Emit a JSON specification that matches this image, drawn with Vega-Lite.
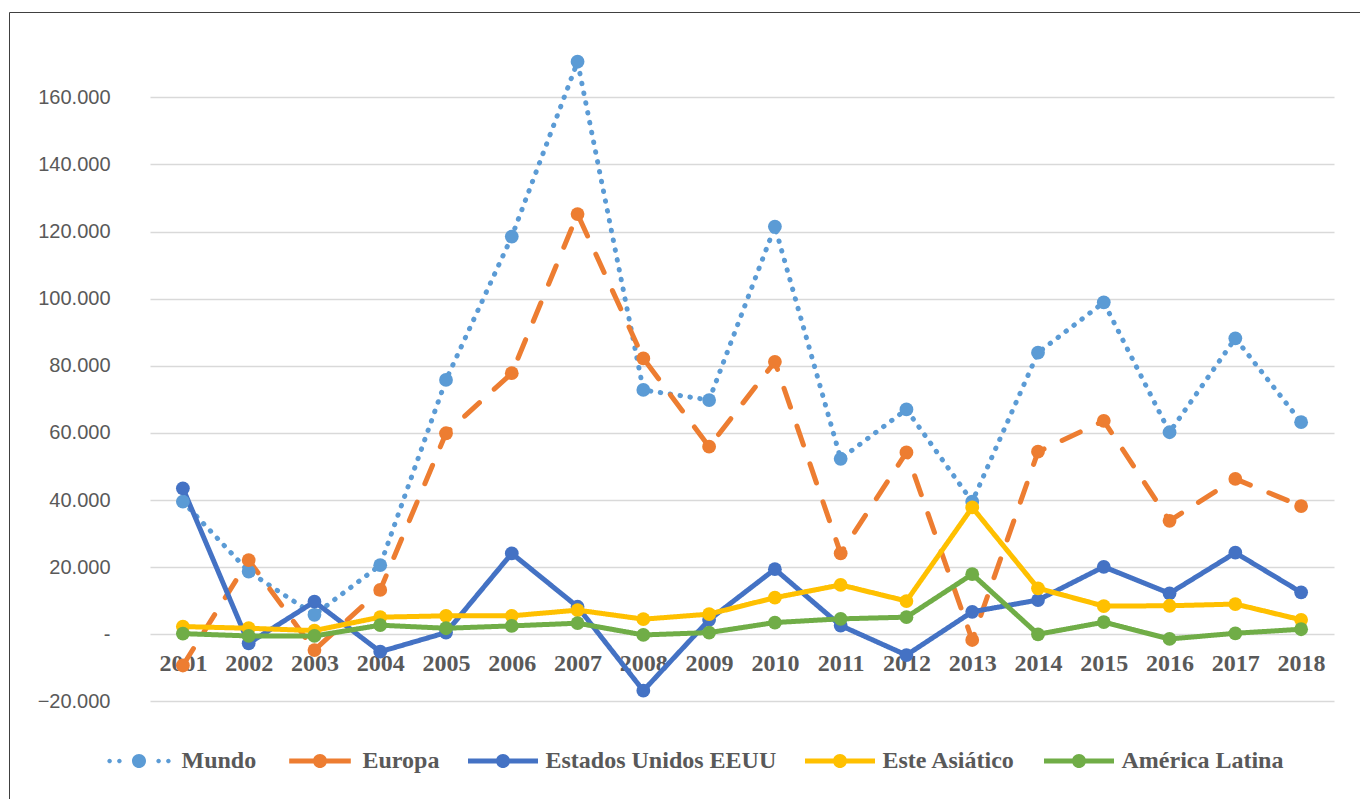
{
  "$schema": "https://vega.github.io/schema/vega-lite/v6.json",
  "width": 1351,
  "height": 787,
  "autosize": {"type": "none"},
  "padding": {"left": 9, "top": 12, "right": 0, "bottom": 0},
  "background": "white",
  "config": {"view": {"stroke": "#404040", "strokeWidth": 1, "strokeDash": [1351, 2138, 787, 0]}},
  "data": {
    "values": [
      {"serie": "Mundo", "anio": "2001", "valor": 39500},
      {"serie": "Mundo", "anio": "2002", "valor": 18700},
      {"serie": "Mundo", "anio": "2003", "valor": 5800},
      {"serie": "Mundo", "anio": "2004", "valor": 20600},
      {"serie": "Mundo", "anio": "2005", "valor": 75800},
      {"serie": "Mundo", "anio": "2006", "valor": 118500},
      {"serie": "Mundo", "anio": "2007", "valor": 170600},
      {"serie": "Mundo", "anio": "2008", "valor": 72800},
      {"serie": "Mundo", "anio": "2009", "valor": 69800},
      {"serie": "Mundo", "anio": "2010", "valor": 121500},
      {"serie": "Mundo", "anio": "2011", "valor": 52300},
      {"serie": "Mundo", "anio": "2012", "valor": 67000},
      {"serie": "Mundo", "anio": "2013", "valor": 39500},
      {"serie": "Mundo", "anio": "2014", "valor": 83900},
      {"serie": "Mundo", "anio": "2015", "valor": 98900},
      {"serie": "Mundo", "anio": "2016", "valor": 60200},
      {"serie": "Mundo", "anio": "2017", "valor": 88200},
      {"serie": "Mundo", "anio": "2018", "valor": 63200},
      {"serie": "Europa", "anio": "2001", "valor": -9300},
      {"serie": "Europa", "anio": "2002", "valor": 22100},
      {"serie": "Europa", "anio": "2003", "valor": -4700},
      {"serie": "Europa", "anio": "2004", "valor": 13200},
      {"serie": "Europa", "anio": "2005", "valor": 59900},
      {"serie": "Europa", "anio": "2006", "valor": 77800},
      {"serie": "Europa", "anio": "2007", "valor": 125200},
      {"serie": "Europa", "anio": "2008", "valor": 82200},
      {"serie": "Europa", "anio": "2009", "valor": 55900},
      {"serie": "Europa", "anio": "2010", "valor": 81200},
      {"serie": "Europa", "anio": "2011", "valor": 24100},
      {"serie": "Europa", "anio": "2012", "valor": 54200},
      {"serie": "Europa", "anio": "2013", "valor": -1700},
      {"serie": "Europa", "anio": "2014", "valor": 54400},
      {"serie": "Europa", "anio": "2015", "valor": 63600},
      {"serie": "Europa", "anio": "2016", "valor": 33800},
      {"serie": "Europa", "anio": "2017", "valor": 46300},
      {"serie": "Europa", "anio": "2018", "valor": 38200},
      {"serie": "Estados Unidos EEUU", "anio": "2001", "valor": 43500},
      {"serie": "Estados Unidos EEUU", "anio": "2002", "valor": -2700},
      {"serie": "Estados Unidos EEUU", "anio": "2003", "valor": 9700},
      {"serie": "Estados Unidos EEUU", "anio": "2004", "valor": -5200},
      {"serie": "Estados Unidos EEUU", "anio": "2005", "valor": 500},
      {"serie": "Estados Unidos EEUU", "anio": "2006", "valor": 24100},
      {"serie": "Estados Unidos EEUU", "anio": "2007", "valor": 8200},
      {"serie": "Estados Unidos EEUU", "anio": "2008", "valor": -16800},
      {"serie": "Estados Unidos EEUU", "anio": "2009", "valor": 4300},
      {"serie": "Estados Unidos EEUU", "anio": "2010", "valor": 19400},
      {"serie": "Estados Unidos EEUU", "anio": "2011", "valor": 2600},
      {"serie": "Estados Unidos EEUU", "anio": "2012", "valor": -6200},
      {"serie": "Estados Unidos EEUU", "anio": "2013", "valor": 6700},
      {"serie": "Estados Unidos EEUU", "anio": "2014", "valor": 10200},
      {"serie": "Estados Unidos EEUU", "anio": "2015", "valor": 20100},
      {"serie": "Estados Unidos EEUU", "anio": "2016", "valor": 12200},
      {"serie": "Estados Unidos EEUU", "anio": "2017", "valor": 24300},
      {"serie": "Estados Unidos EEUU", "anio": "2018", "valor": 12500},
      {"serie": "Este Asiático", "anio": "2001", "valor": 2300},
      {"serie": "Este Asiático", "anio": "2002", "valor": 1800},
      {"serie": "Este Asiático", "anio": "2003", "valor": 1100},
      {"serie": "Este Asiático", "anio": "2004", "valor": 5100},
      {"serie": "Este Asiático", "anio": "2005", "valor": 5500},
      {"serie": "Este Asiático", "anio": "2006", "valor": 5500},
      {"serie": "Este Asiático", "anio": "2007", "valor": 7200},
      {"serie": "Este Asiático", "anio": "2008", "valor": 4500},
      {"serie": "Este Asiático", "anio": "2009", "valor": 6000},
      {"serie": "Este Asiático", "anio": "2010", "valor": 10900},
      {"serie": "Este Asiático", "anio": "2011", "valor": 14700},
      {"serie": "Este Asiático", "anio": "2012", "valor": 9900},
      {"serie": "Este Asiático", "anio": "2013", "valor": 37800},
      {"serie": "Este Asiático", "anio": "2014", "valor": 13700},
      {"serie": "Este Asiático", "anio": "2015", "valor": 8400},
      {"serie": "Este Asiático", "anio": "2016", "valor": 8500},
      {"serie": "Este Asiático", "anio": "2017", "valor": 9000},
      {"serie": "Este Asiático", "anio": "2018", "valor": 4300},
      {"serie": "América Latina", "anio": "2001", "valor": 200},
      {"serie": "América Latina", "anio": "2002", "valor": -500},
      {"serie": "América Latina", "anio": "2003", "valor": -500},
      {"serie": "América Latina", "anio": "2004", "valor": 2700},
      {"serie": "América Latina", "anio": "2005", "valor": 1800},
      {"serie": "América Latina", "anio": "2006", "valor": 2500},
      {"serie": "América Latina", "anio": "2007", "valor": 3300},
      {"serie": "América Latina", "anio": "2008", "valor": -200},
      {"serie": "América Latina", "anio": "2009", "valor": 500},
      {"serie": "América Latina", "anio": "2010", "valor": 3500},
      {"serie": "América Latina", "anio": "2011", "valor": 4600},
      {"serie": "América Latina", "anio": "2012", "valor": 5100},
      {"serie": "América Latina", "anio": "2013", "valor": 17900},
      {"serie": "América Latina", "anio": "2014", "valor": 0},
      {"serie": "América Latina", "anio": "2015", "valor": 3600},
      {"serie": "América Latina", "anio": "2016", "valor": -1400},
      {"serie": "América Latina", "anio": "2017", "valor": 300},
      {"serie": "América Latina", "anio": "2018", "valor": 1500}
    ]
  },
  "encoding": {
    "x": {
      "field": "anio",
      "type": "ordinal",
      "scale": {"type": "point", "padding": 0.5, "range": [141, 1325]},
      "axis": {
        "title": null,
        "orient": "bottom",
        "offset": -164.7,
        "domain": false,
        "ticks": false,
        "grid": false,
        "labelAngle": 0,
        "labelFont": "Liberation Serif",
        "labelFontWeight": "bold",
        "labelFontSize": 24,
        "labelColor": "#595959",
        "labelPadding": 17
      }
    },
    "y": {
      "field": "valor",
      "type": "quantitative",
      "scale": {"domain": [-20000, 180000], "nice": false, "zero": false, "range": [689.4, 18.2]},
      "axis": {
        "title": null,
        "orient": "left",
        "offset": -141,
        "values": [-20000, 0, 20000, 40000, 60000, 80000, 100000, 120000, 140000, 160000],
        "grid": true,
        "gridColor": "#D9D9D9",
        "gridWidth": 1.3,
        "domain": false,
        "ticks": false,
        "labelPadding": 40,
        "labelFont": "Liberation Sans",
        "labelFontSize": 20,
        "labelColor": "#595959",
        "labelExpr": "datum.value == 0 ? '-' : replace(format(datum.value, ','), ',', '.')"
      }
    }
  },
  "layer": [
    {
      "mark": {"type": "line", "strokeWidth": 5, "strokeCap": "round", "strokeJoin": "round"},
      "encoding": {
        "stroke": {
          "field": "serie",
          "type": "nominal",
          "scale": {
            "domain": ["América Latina", "Este Asiático", "Estados Unidos EEUU", "Europa", "Mundo"],
            "range": ["#70AD47", "#FFC000", "#4472C4", "#ED7D31", "#5B9BD5"]
          },
          "legend": null
        },
        "strokeDash": {
          "field": "serie",
          "type": "nominal",
          "scale": {
            "domain": ["América Latina", "Este Asiático", "Estados Unidos EEUU", "Europa", "Mundo"],
            "range": [[1, 0], [1, 0], [1, 0], [20, 20], [0.5, 9.5]]
          },
          "legend": null
        }
      }
    },
    {
      "mark": {"type": "point", "filled": true, "opacity": 1, "size": 190},
      "encoding": {
        "fill": {
          "field": "serie",
          "type": "nominal",
          "scale": {
            "domain": ["América Latina", "Este Asiático", "Estados Unidos EEUU", "Europa", "Mundo"],
            "range": ["#70AD47", "#FFC000", "#4472C4", "#ED7D31", "#5B9BD5"]
          },
          "legend": null
        }
      }
    },
    {
      "mark": {"type": "point", "filled": true, "opacity": 0, "size": 10},
      "encoding": {
        "color": {
          "field": "serie",
          "type": "nominal",
          "scale": {
            "domain": ["Mundo", "Europa", "Estados Unidos EEUU", "Este Asiático", "América Latina"],
            "range": ["#5B9BD5", "#ED7D31", "#4472C4", "#FFC000", "#70AD47"]
          },
          "legend": {
            "title": null,
            "orient": "none",
            "legendX": 95,
            "legendY": 714,
            "direction": "horizontal",
            "padding": 0,
            "columnPadding": 28,
            "labelOffset": 7.5,
            "symbolSize": 4900,
            "symbolOpacity": 1,
            "symbolStrokeWidth": 0,
            "labelFont": "Liberation Serif",
            "labelFontWeight": "bold",
            "labelFontSize": 24,
            "labelColor": "#595959",
            "labelLimit": 400
          }
        },
        "shape": {
          "field": "serie",
          "type": "nominal",
          "scale": {
            "domain": ["Mundo", "Europa", "Estados Unidos EEUU", "Este Asiático", "América Latina"],
            "range": [
              "M-0.905,0A0.065,0.065 0 1,1 -0.775,0A0.065,0.065 0 1,1 -0.905,0Z M-0.625,0A0.065,0.065 0 1,1 -0.495,0A0.065,0.065 0 1,1 -0.625,0Z M0.495,0A0.065,0.065 0 1,1 0.625,0A0.065,0.065 0 1,1 0.495,0Z M0.775,0A0.065,0.065 0 1,1 0.905,0A0.065,0.065 0 1,1 0.775,0Z M-0.2,0A0.2,0.2 0 1,1 0.2,0A0.2,0.2 0 1,1 -0.2,0Z",
              "M-0.88,-0.07H-0.15V0.07H-0.88Z M0.15,-0.07H0.88V0.07H0.15Z M-0.2,0A0.2,0.2 0 1,1 0.2,0A0.2,0.2 0 1,1 -0.2,0Z",
              "M-1,-0.07H-0.15V0.07H-1Z M0.15,-0.07H1V0.07H0.15Z M-0.2,0A0.2,0.2 0 1,1 0.2,0A0.2,0.2 0 1,1 -0.2,0Z",
              "M-1,-0.07H-0.15V0.07H-1Z M0.15,-0.07H1V0.07H0.15Z M-0.2,0A0.2,0.2 0 1,1 0.2,0A0.2,0.2 0 1,1 -0.2,0Z",
              "M-1,-0.07H-0.15V0.07H-1Z M0.15,-0.07H1V0.07H0.15Z M-0.2,0A0.2,0.2 0 1,1 0.2,0A0.2,0.2 0 1,1 -0.2,0Z"
            ]
          },
          "legend": {
            "title": null,
            "orient": "none",
            "legendX": 95,
            "legendY": 714,
            "direction": "horizontal",
            "padding": 0,
            "columnPadding": 28,
            "labelOffset": 7.5,
            "symbolSize": 4900,
            "symbolOpacity": 1,
            "symbolStrokeWidth": 0,
            "labelFont": "Liberation Serif",
            "labelFontWeight": "bold",
            "labelFontSize": 24,
            "labelColor": "#595959",
            "labelLimit": 400
          }
        }
      }
    }
  ]
}
